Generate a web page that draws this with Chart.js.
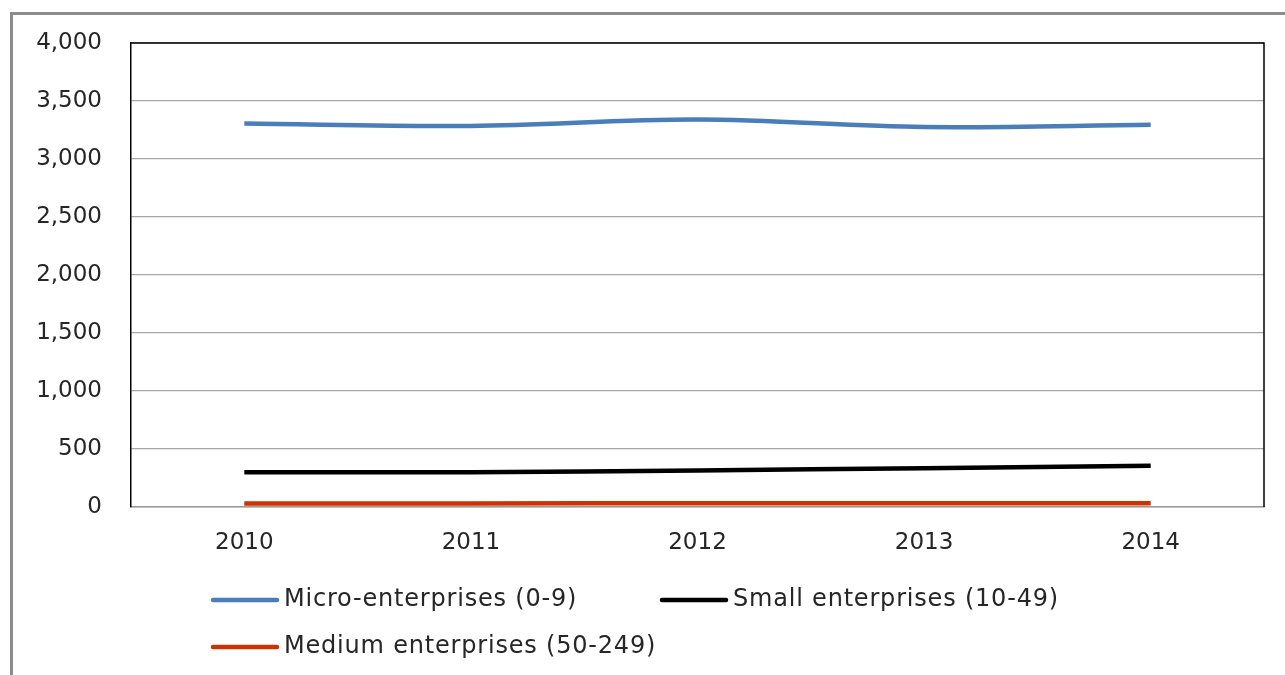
<!DOCTYPE html>
<html>
<head>
<meta charset="utf-8">
<script src="https://cdn.jsdelivr.net/npm/chart.js@4/dist/chart.umd.min.js"></script>
<style>
  body { margin: 0; background: #fff; }
  #wrap { position: relative; width: 1285px; height: 675px; overflow: hidden; }
  #frame {
    position: absolute; left: 10px; top: 12px; width: 1400px; height: 800px;
    border-top: 3px solid #8c8c8c; border-left: 3px solid #8c8c8c;
  }
  #chart { position: absolute; left: 0; top: 0; }
</style>
</head>
<body>
<div id="wrap">
  <div id="frame"></div>
  <canvas id="chart" width="1285" height="675"></canvas>
</div>
<script>
// data
const years = ["2010", "2011", "2012", "2013", "2014"];
const micro = [3305, 3285, 3340, 3275, 3295];
const small = [299, 300, 315, 335, 356];
const medium = [31, 31, 32, 32, 33];
const seriesNames = ["Micro-enterprises (0-9)", "Small enterprises (10-49)", "Medium enterprises (50-249)"];
const seriesColors = ["#4a7ebb", "#000000", "#cc3300"];

const textColor = "#262626";
const fontFamily = "'DejaVu Sans', sans-serif";

// black edge on top and right of the plot area
const plotFrame = {
  id: "plotFrame",
  afterDatasetsDraw(chart) {
    const { ctx, chartArea } = chart;
    ctx.save();
    ctx.strokeStyle = "#000";
    ctx.lineWidth = 1.5;
    ctx.beginPath();
    ctx.moveTo(chartArea.left, chartArea.top);
    ctx.lineTo(chartArea.right, chartArea.top);
    ctx.lineTo(chartArea.right, chartArea.bottom);
    ctx.stroke();
    ctx.restore();
  },
};

// legend laid out like the excel one (two columns, left aligned)
const excelLegend = {
  id: "excelLegend",
  afterDraw(chart) {
    const { ctx } = chart;
    const slots = [[213, 600], [662, 600], [213, 647]];
    ctx.save();
    ctx.font = "24px " + fontFamily;
    ctx.letterSpacing = "0.8px";
    ctx.textBaseline = "middle";
    ctx.fillStyle = textColor;
    chart.data.datasets.forEach((ds, i) => {
      const [x, y] = slots[i];
      ctx.strokeStyle = ds.borderColor;
      ctx.lineWidth = 4.5;
      ctx.lineCap = "round";
      ctx.beginPath();
      ctx.moveTo(x, y);
      ctx.lineTo(x + 64, y);
      ctx.stroke();
      ctx.fillText(ds.label, x + 71, y);
    });
    ctx.restore();
  },
};

new Chart(document.getElementById("chart"), {
  type: "line",
  data: {
    labels: years,
    datasets: [micro, small, medium].map((values, i) => ({
      label: seriesNames[i],
      data: values,
      borderColor: seriesColors[i],
      backgroundColor: seriesColors[i],
      borderWidth: 4.5,
      pointRadius: 0,
      tension: 0.35,
      fill: false,
    })),
  },
  options: {
    responsive: false,
    animation: false,
    layout: { padding: { top: 43, right: 21, bottom: 108, left: 0 } },
    plugins: {
      legend: { display: false },
      tooltip: { enabled: false },
    },
    scales: {
      x: {
        offset: true,
        grid: { display: false, drawTicks: false },
        border: { color: "#9a9a9a", width: 1.5 },
        ticks: { color: textColor, font: { family: fontFamily, size: 23 }, padding: 22 },
        afterFit(scale) { scale.height = 60; },
      },
      y: {
        min: 0,
        max: 4000,
        ticks: { stepSize: 500, color: textColor, font: { family: fontFamily, size: 23 }, padding: 29 },
        grid: { color: "#a6a6a6", lineWidth: 1.2, drawTicks: false },
        border: { color: "#000", width: 1.5 },
        afterFit(scale) { scale.width = 131; },
      },
    },
  },
  plugins: [plotFrame, excelLegend],
});
</script>
</body>
</html>
